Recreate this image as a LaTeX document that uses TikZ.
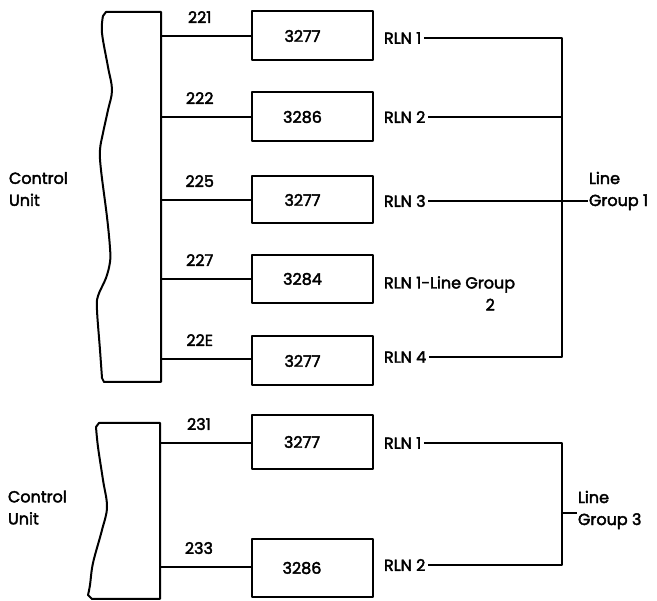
\documentclass[tikz,border=0pt]{standalone}
\usepackage{fontspec}
\setmainfont{Poppins}[FakeBold=2.5]
\begin{document}
\begin{tikzpicture}[x=1pt,y=-1pt, line width=2pt, line join=round,
  txt/.style={font=\fontsize{16}{22}\selectfont, inner sep=0pt},
  unitbox/.style={draw, minimum width=121pt, minimum height=49pt, inner sep=0pt},
  num/.style={txt, above=12pt, pos=0.43},
  rln/.style={txt, anchor=west, inner xsep=1.5pt},
  grp/.style={txt, anchor=west, align=left},
  cu/.style={txt, anchor=west, align=left},
  boxlbl/.style={txt, xshift=-10pt}]
\useasboundingbox (0,0) rectangle (657,601);

% ---- control unit outlines
\draw (161,12) -- (161,382) -- (104,382)
  -- plot[smooth, tension=0.6] coordinates {(102,378) (100,350) (97,310) (98,296) (106,278) (110,262) (110,248) (107,217) (101,170) (100,150) (103,133) (108,110) (112,90) (108,67) (102,33) (103,16)}
  -- (106,12) -- cycle;
\draw (160,423) -- (160,599) -- (92,599)
  -- plot[smooth, tension=0.6] coordinates {(88,595) (90,585) (93,563) (102,530) (107,507) (103,480) (98,447) (96,427)}
  -- (99,423) -- cycle;

\node[cu] (cu1) at (8,189) {Control\\Unit};
\node[cu] (cu2) at (7,507.5) {Control\\Unit};

% ---- ports on control units
\coordinate (p1) at (161,36);
\coordinate (p2) at (161,117);
\coordinate (p3) at (161,200);
\coordinate (p4) at (161,279);
\coordinate (p5) at (161,359);
\coordinate (p6) at (160,443);
\coordinate (p7) at (160,567);

% ---- terminal boxes
\node[unitbox, label={[boxlbl]center:3277}] (b1) at (312.5,36) {};
\node[unitbox, label={[boxlbl]center:3286}] (b2) at (312.5,117) {};
\node[unitbox, minimum height=47pt, label={[boxlbl]center:3277}] (b3) at (312.5,200) {};
\node[unitbox, minimum height=48pt, label={[boxlbl]center:3284}] (b4) at (312.5,279) {};
\node[unitbox, label={[boxlbl]center:3277}] (b5) at (312.5,361) {};
\node[unitbox, minimum height=54pt, label={[boxlbl]center:3277}] (b6) at (312,442) {};
\node[unitbox, minimum height=58pt, label={[boxlbl]center:3286}] (b7) at (312,568) {};

\draw (p1) -- node[num] {221} (p1 -| b1.west);
\draw (p2) -- node[num] {222} (p2 -| b2.west);
\draw (p3) -- node[num] {225} (p3 -| b3.west);
\draw (p4) -- node[num] {227} (p4 -| b4.west);
\draw (p5) -- node[num] {22E} (p5 -| b5.west);
\draw (p6) -- node[num] {231} (p6 -| b6.west);
\draw (p7) -- node[num] {233} (p7 -| b7.west);

% ---- RLN labels
\node[rln] (r1) at (381.5,38) {RLN 1};
\node[rln] (r2) at (381.5,117) {RLN 2};
\node[rln] (r3) at (381.5,201) {RLN 3};
\node[rln, anchor=base west] (r4) at (381.5,288.5) {RLN 1-Line \begin{tabular}[t]{@{}c@{}}Group\\2\end{tabular}};
\node[rln] (r5) at (381.5,357) {RLN 4};
\node[rln] (r6) at (381.5,443) {RLN 1};
\node[rln] (r7) at (381.5,565) {RLN 2};

\coordinate (vx) at (562,0);

\node[grp] (lg1) at (588,191) {Line\\Group 1};
\node[grp] (lg3) at (577,510) {Line\\Group 3};

\draw (r1.east) -- (r1.east -| vx) |- (r5.east);
\draw (r2.east) -- (r2.east -| vx);
\draw (r3.east) -- (r3.east -| lg1.west);
\draw (r6.east) -- (r6.east -| vx) |- (r7.east);
\coordinate (t3) at (562,513);
\draw (t3) -- (t3 -| lg3.west);
\end{tikzpicture}
\end{document}
